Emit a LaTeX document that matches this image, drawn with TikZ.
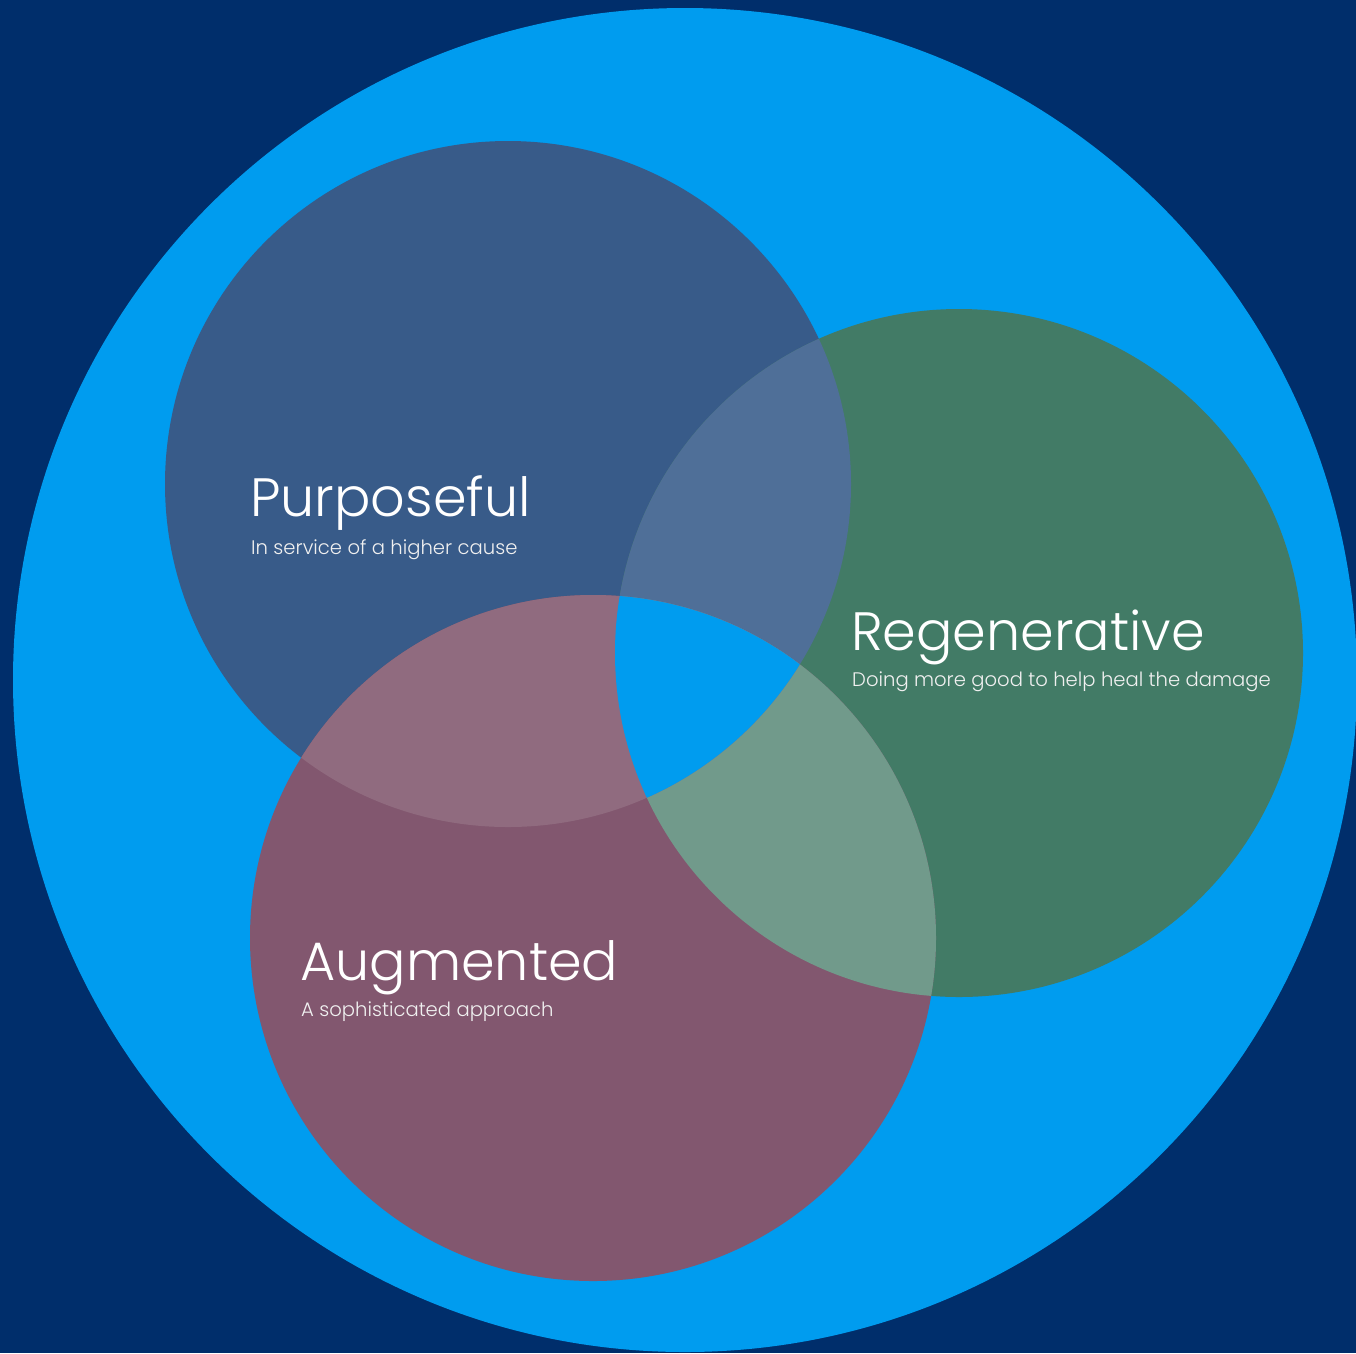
\documentclass[tikz,border=0pt]{standalone}
\usepackage{fontspec}
\setmainfont{Poppins}[UprightFont=* Light]
\definecolor{navy}{HTML}{002E6B}
\definecolor{sky}{HTML}{009CEF}
\definecolor{cP}{HTML}{385B89}
\definecolor{cR}{HTML}{427B66}
\definecolor{cA}{HTML}{82576F}
\definecolor{cPR}{HTML}{4F6F98}
\definecolor{cRA}{HTML}{719A8B}
\definecolor{cPA}{HTML}{906B7F}
\tikzset{
  title/.style={anchor=base west, inner sep=0pt, text=white, font=\fontsize{54}{64}\selectfont},
  sub/.style={anchor=base west, inner sep=0pt, text=white!88!gray, font=\fontsize{19.6}{24}\selectfont},
}
\begin{document}
\begin{tikzpicture}[x=1pt,y=-1pt]
\fill[navy] (0,0) rectangle (1356,1353);
\useasboundingbox (0,0) rectangle (1356,1353);
\begin{scope}
\clip (0,0) rectangle (1356,1353);
\fill[sky] (685,680) circle (672);
\end{scope}
\def\cPpath{(508,484) circle (343)}
\def\cRpath{(959,653) circle (344)}
\def\cApath{(593,938) circle (343)}
\fill[cP] \cPpath;
\fill[cR] \cRpath;
\fill[cA] \cApath;
\begin{scope}\clip \cPpath; \fill[cPR] \cRpath; \end{scope}
\begin{scope}\clip \cRpath; \fill[cRA] \cApath; \end{scope}
\begin{scope}\clip \cPpath; \fill[cPA] \cApath; \end{scope}
\begin{scope}\clip \cPpath; \clip \cRpath; \fill[sky] \cApath; \end{scope}
\node[title] (tP) at (250,516) {Purposeful};
\node[sub] (sP) at (251,554) {In service of a higher cause};
\node[title] (tR) at (851,650) {Regenerative};
\node[sub] (sR) at (852,686) {Doing more good to help heal the damage};
\node[title] (tA) at (300,980) {Augmented};
\node[sub] (sA) at (301,1016) {A sophisticated approach};
\end{tikzpicture}
\end{document}
